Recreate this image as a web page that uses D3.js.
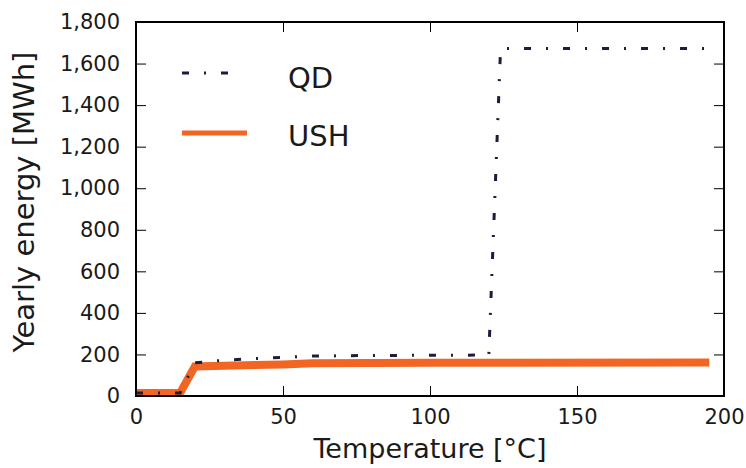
<!DOCTYPE html>
<html>
<head>
<meta charset="utf-8">
<script src="https://cdn.jsdelivr.net/npm/d3@7"></script>
<style>
body { margin: 0; background: #fff; }
text { font-family: "DejaVu Sans", sans-serif; fill: #1a1a1a; }
</style>
</head>
<body>
<div id="chart"></div>
<script>
const margin = { top: 22, bottom: 72, left: 136, right: 22 };
const width = 746, height = 468;

// QD series (temperature, energy)
var qdTemp = [0, 15, 20, 30, 40, 50, 60, 80, 100, 120, 124, 195];
var qdVal  = [15, 15, 160, 172, 180, 186, 192, 195, 196, 197, 1672, 1672];

// USH series
var ushTemp = [0, 15, 20, 30, 50, 60, 100, 195];
var ushVal  = [15, 15, 142, 146, 152, 158, 160, 161];

var xTicks = [0, 50, 100, 150, 200];
var yTicks = [0, 200, 400, 600, 800, 1000, 1200, 1400, 1600, 1800];

var svg = d3.select("#chart").append("svg")
    .attr("width", width)
    .attr("height", height);

var iw = width - margin.left - margin.right;
var ih = height - margin.top - margin.bottom;

var x = d3.scaleLinear().domain([0, 200]).range([0, iw]);
var y = d3.scaleLinear().domain([0, 1800]).range([ih, 0]);

const g = svg.append("g").attr("transform", `translate(${margin.left},${margin.top})`);

// ticks inside, all four sides
function styleAxis(sel) {
    sel.select(".domain").remove();
    sel.selectAll(".tick line").attr("stroke", "#000").attr("stroke-width", 1);
    sel.selectAll(".tick text").style("font-size", "21px").attr("fill", "#1a1a1a");
}

g.append("g").attr("transform", `translate(0,${ih})`)
    .call(d3.axisBottom(x).tickValues(xTicks).tickSizeInner(-10).tickPadding(13))
    .call(styleAxis);
g.append("g")
    .call(d3.axisTop(x).tickValues(xTicks).tickSizeInner(-10).tickFormat(""))
    .call(styleAxis);
g.append("g")
    .call(d3.axisLeft(y).tickValues(yTicks).tickSizeInner(-10).tickPadding(16).tickFormat(d3.format(",")))
    .call(styleAxis);
g.append("g").attr("transform", `translate(${iw},0)`)
    .call(d3.axisRight(y).tickValues(yTicks).tickSizeInner(-10).tickFormat(""))
    .call(styleAxis);

var line = d3.line().x(d => x(d[0])).y(d => y(d[1]));

var qd = qdTemp.map((t, i) => [t, qdVal[i]]);
var ush = ushTemp.map((t, i) => [t, ushVal[i]]);

g.append("path").datum(ush)
    .attr("d", line)
    .attr("fill", "none")
    .attr("stroke", "#f26522")
    .attr("stroke-width", 8);

g.append("path").datum(qd)
    .attr("d", line)
    .attr("fill", "none")
    .attr("stroke", "#1c1c3c")
    .attr("stroke-width", 3)
    .attr("stroke-dasharray", "7,15,2,15");

// frame
g.append("rect")
    .attr("width", iw).attr("height", ih)
    .attr("fill", "none").attr("stroke", "#000").attr("stroke-width", 2);

// legend
var leg = g.append("g").attr("transform", "translate(46,51)");
leg.append("line").attr("x1", 0).attr("x2", 60).attr("y1", 0).attr("y2", 0)
    .attr("stroke", "#1c1c3c").attr("stroke-width", 3).attr("stroke-dasharray", "7,15,2,15");
leg.append("text").attr("x", 106).attr("y", 15).style("font-size", "29px").text("QD");
leg.append("line").attr("x1", 0).attr("x2", 65).attr("y1", 60).attr("y2", 60)
    .attr("stroke", "#f26522").attr("stroke-width", 5);
leg.append("text").attr("x", 106).attr("y", 73).style("font-size", "29px").text("USH");

// axis labels
svg.append("text")
    .attr("x", margin.left + iw / 2).attr("y", 458)
    .attr("text-anchor", "middle").style("font-size", "27px")
    .text("Temperature [°C]");
svg.append("text")
    .attr("transform", `translate(34,${margin.top + ih / 2 - 7}) rotate(-90)`)
    .attr("text-anchor", "middle").style("font-size", "29px")
    .text("Yearly energy [MWh]");
</script>
</body>
</html>
